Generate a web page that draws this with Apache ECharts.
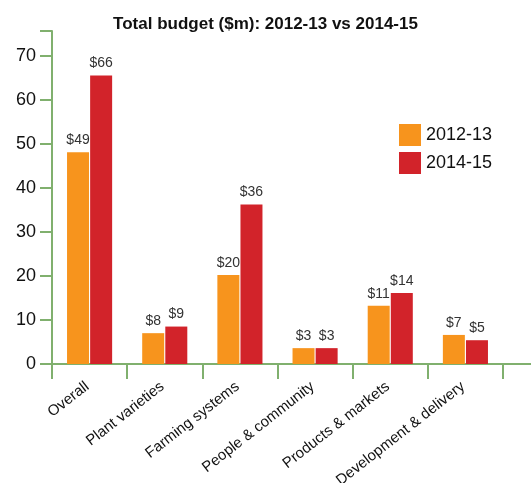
<!DOCTYPE html>
<html>
<head>
<meta charset="utf-8">
<script src="https://cdn.jsdelivr.net/npm/echarts@6/dist/echarts.min.js"></script>
<style>
  html, body { margin: 0; padding: 0; background: #fff; }
  #chart { width: 531px; height: 483px; }
</style>
</head>
<body>
<div id="chart"></div>
<script>
// categories and values
const categories = ['Overall', 'Plant varieties', 'Farming systems', 'People & community', 'Products & markets', 'Development & delivery'];
const budget1213 = [48.1, 7.0, 20.2, 3.6, 13.2, 6.6];
const budget1415 = [65.5, 8.5, 36.2, 3.6, 16.1, 5.4];
// printed labels above the bars
const labels1213 = ['$49', '$8', '$20', '$3', '$11', '$7'];
const labels1415 = ['$66', '$9', '$36', '$3', '$14', '$5'];
const yTicks = [0, 10, 20, 30, 40, 50, 60, 70];

const green = '#80b06e';
const font = 'Liberation Sans';

const chart = echarts.init(document.getElementById('chart'));

chart.setOption({
    animation: false,
    textStyle: { fontFamily: font },
    title: {
        text: 'Total budget ($m): 2012-13 vs 2014-15',
        left: 'center',
        top: 11,
        textStyle: { fontSize: 17, fontWeight: 'bold', color: '#111', fontFamily: font }
    },
    legend: {
        orient: 'vertical',
        left: 394,
        top: 119,
        itemWidth: 22,
        itemHeight: 22,
        itemGap: 6,
        icon: 'rect',
        textStyle: { fontSize: 18, color: '#111', fontFamily: font },
        data: ['2012-13', '2014-15']
    },
    grid: { left: 52, right: 28, top: 31, bottom: 119, outerBoundsMode: 'none' },
    xAxis: {
        type: 'category',
        data: categories,
        axisLine: { show: true, lineStyle: { color: green, width: 2 } },
        axisTick: { show: true, inside: false, alignWithLabel: false, length: 15, lineStyle: { color: green, width: 2 } },
        axisLabel: { rotate: 38, margin: 19, padding: [0, 3, 0, 0], fontSize: 15, color: '#111', interval: 0 }
    },
    yAxis: {
        type: 'value',
        min: 0,
        max: 75.6,
        interval: 10,
        splitLine: { show: false },
        axisLine: { show: true, lineStyle: { color: green, width: 2 } },
        axisTick: { show: true, inside: false, length: 12, lineStyle: { color: green, width: 2 } },
        axisLabel: {
            customValues: yTicks, fontSize: 18, color: '#111', margin: 16
        }
    },
    series: [
        {
            name: '2012-13',
            type: 'bar',
            data: budget1213,
            barWidth: 22,
            barGap: '5%',
            itemStyle: { color: '#f7941d' },
            label: {
                show: true, position: 'top', fontSize: 14, color: '#333',
                formatter: p => labels1213[p.dataIndex]
            }
        },
        {
            name: '2014-15',
            type: 'bar',
            data: budget1415,
            barWidth: 22,
            itemStyle: { color: '#d2232a' },
            label: {
                show: true, position: 'top', fontSize: 14, color: '#333',
                formatter: p => labels1415[p.dataIndex]
            }
        }
    ],
    graphic: [
        // x axis line runs on past the last tick to the edge
        { type: 'line', shape: { x1: 503, y1: 364, x2: 531, y2: 364 }, style: { stroke: green, lineWidth: 2 } }
    ]
});
</script>
</body>
</html>
